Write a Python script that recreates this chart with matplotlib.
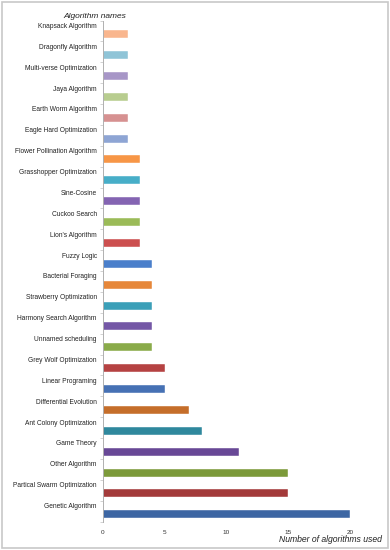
import matplotlib
matplotlib.use("Agg")
import matplotlib.pyplot as plt
from matplotlib.patches import Rectangle

categories = ["Genetic Algorithm", "Partical Swarm Optimization", "Other Algorithm",
              "Game Theory", "Ant Colony Optimization", "Differential Evolution",
              "Linear Programing", "Grey Wolf Optimization", "Unnamed scheduling",
              "Harmony Search Algorithm", "Strawberry Optimization", "Bacterial Foraging",
              "Fuzzy Logic", "Lion's Algorithm", "Cuckoo Search", "Sine-Cosine",
              "Grasshopper Optimization", "Flower Pollination Algorithm",
              "Eagle Hard Optimization", "Earth Worm Algorithm", "Jaya Algorithm",
              "Multi-verse Optimization", "Dragonfly Algorithm", "Knapsack Algorithm"]
values = [20, 15, 15, 11, 8, 7, 5, 5, 4, 4, 4, 4, 4, 3, 3, 3, 3, 3, 2, 2, 2, 2, 2, 2]
colors = ["#3d66a3", "#a33a3a", "#7c9a3a", "#684896", "#2f889d", "#c56e2a",
          "#4671b4", "#b54242", "#8aab4a", "#7457a6", "#3b9fb8", "#e6873a",
          "#4a7fcb", "#cc4f4f", "#9bbb58", "#8464b2", "#47aec8", "#f79646",
          "#8ea5d4", "#d69191", "#b8cd8f", "#a796c7", "#8fc4d7", "#f9b68e"]
xticks = [0, 5, 10, 15, 20]

plt.rcParams['font.family'] = ['Liberation Sans', 'DejaVu Sans']
fig = plt.figure(figsize=(3.9, 5.5), dpi=100)
fig.patches.append(Rectangle((0.004, 0.004), 0.992, 0.992, transform=fig.transFigure,
                             fill=False, edgecolor="#c8c8c8", linewidth=1.2))
ax = fig.add_axes([103/390, 0.0516, (350-103)/390, 0.9625-0.0516])

n = len(categories)
ypos = list(range(n))
ax.barh([y - 0.15 for y in ypos], values, height=0.38, color=colors,
        edgecolor="white", linewidth=0.3)
for y, lab in zip(ypos, categories):
    ax.text(-0.5, y + 0.22, lab, ha="right", va="center", fontsize=4.8, color="#222222")

ax.set_xlim(0, 20)
ax.set_ylim(-0.5, n - 0.5)
ax.set_yticks([y - 0.5 for y in range(n + 1)])
ax.set_yticklabels([])
ax.tick_params(axis="y", length=2, color="#c0c0c0", width=0.5)
ax.set_xticks(xticks)
ax.set_xticklabels([str(t) for t in xticks], fontsize=4.6, color="#333333")
ax.tick_params(axis="x", length=0, pad=6)
for s in ["top", "right", "bottom"]:
    ax.spines[s].set_visible(False)
ax.spines["left"].set_color("#b0b0b0")
ax.spines["left"].set_linewidth(0.7)

fig.text(95/390, 1 - 16/550, "Algorithm names", ha="center", va="center",
         fontsize=6.0, style="italic", color="#222222")
fig.text(382/390, 1 - 540/550, "Number of algorithms used", ha="right", va="center",
         fontsize=6.2, style="italic", color="#222222")

fig.savefig("out.png", dpi=100)
